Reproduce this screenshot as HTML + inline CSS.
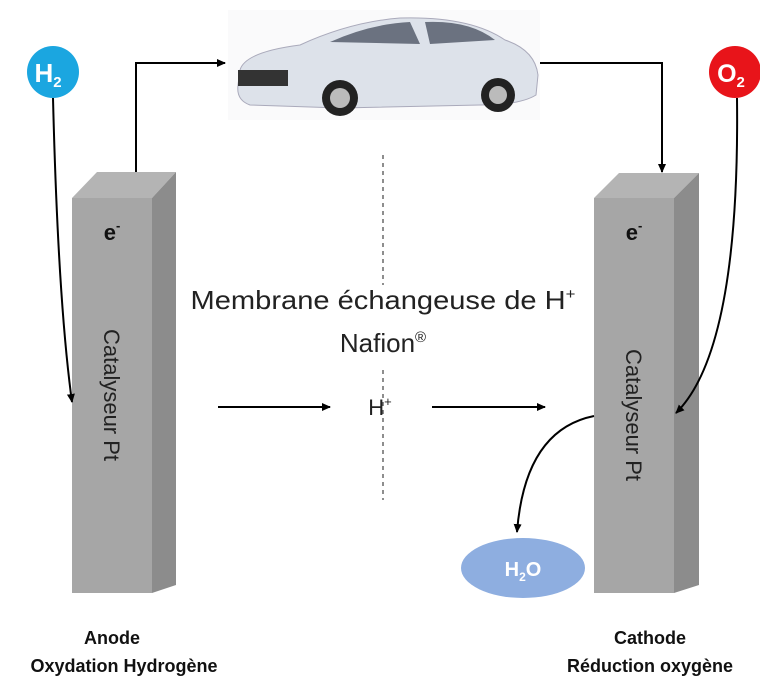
<!DOCTYPE html>
<html><head><meta charset="utf-8"><style>
body{margin:0;background:#fff;}
svg{display:block;font-family:"Liberation Sans",sans-serif;}
</style></head><body>
<svg width="760" height="682" viewBox="0 0 760 682">
<defs>
<marker id="a" markerWidth="10" markerHeight="10" refX="8" refY="5" orient="auto" markerUnits="userSpaceOnUse">
<path d="M0,1 L9,5 L0,9 Z" fill="#000"/></marker>
</defs>
<!-- anode -->
<polygon points="72,198 97,172 176,172 152,198" fill="#b4b4b4"/>
<polygon points="152,198 176,172 176,585 152,593" fill="#8c8c8c"/>
<rect x="72" y="198" width="80" height="395" fill="#a6a6a6"/>
<!-- cathode -->
<polygon points="594,198 619,173 699,173 674,198" fill="#b4b4b4"/>
<polygon points="674,198 699,173 699,585 674,593" fill="#8c8c8c"/>
<rect x="594" y="198" width="80" height="395" fill="#a6a6a6"/>
<text x="112" y="240" font-size="22" font-weight="bold" text-anchor="middle" fill="#111">e<tspan dy="-10" font-size="13">-</tspan></text>
<text x="634" y="240" font-size="22" font-weight="bold" text-anchor="middle" fill="#111">e<tspan dy="-10" font-size="13">-</tspan></text>
<text transform="translate(104,395) rotate(90)" font-size="22" text-anchor="middle" fill="#222">Catalyseur Pt</text>
<text transform="translate(626,415) rotate(90)" font-size="22" text-anchor="middle" fill="#222">Catalyseur Pt</text>
<!-- car -->
<g>
<rect x="228" y="10" width="312" height="110" fill="#fafafb"/>
<path d="M240,70 Q245,52 300,45 Q350,22 400,18 Q470,16 505,40 Q535,50 538,75 L536,95 Q520,105 480,105 L340,108 L250,105 Q236,100 238,85 Z" fill="#dde2ea" stroke="#aab" stroke-width="1"/>
<path d="M330,42 Q370,24 410,22 L420,44 Z M425,22 Q470,20 495,40 L430,44 Z" fill="#6b7280"/>
<rect x="238" y="70" width="50" height="16" fill="#333"/>
<circle cx="340" cy="98" r="18" fill="#222"/><circle cx="340" cy="98" r="10" fill="#bbb"/>
<circle cx="498" cy="95" r="17" fill="#222"/><circle cx="498" cy="95" r="9" fill="#bbb"/>
</g>
<!-- H2 / O2 -->
<circle cx="53" cy="72" r="26" fill="#1ba6e0"/>
<text x="48" y="82" font-size="26" font-weight="bold" fill="#fff" text-anchor="middle">H<tspan font-size="15" dy="5">2</tspan></text>
<circle cx="735" cy="72" r="26" fill="#e8141a"/>
<text x="731" y="82" font-size="25" font-weight="bold" fill="#fff" text-anchor="middle">O<tspan font-size="15" dy="5">2</tspan></text>
<!-- arrows -->
<g fill="none" stroke="#000" stroke-width="2">
<path d="M136,172 V63 H225" marker-end="url(#a)"/>
<path d="M540,63 H662 V172" marker-end="url(#a)"/>
<path d="M53,98 Q58,300 72,402" marker-end="url(#a)"/>
<path d="M737,98 Q740,350 676,413" marker-end="url(#a)"/>
<path d="M594,416 Q525,430 517,532" marker-end="url(#a)"/>
<path d="M218,407 H330" marker-end="url(#a)"/>
<path d="M432,407 H545" marker-end="url(#a)"/>
<path d="M383,155 V285 M383,370 V500" stroke-width="1.2" stroke-dasharray="4,4" stroke="#444"/>
</g>
<ellipse cx="523" cy="568" rx="62" ry="30" fill="#8eaee0"/>
<text x="523" y="576" font-size="20" font-weight="bold" fill="#fff" text-anchor="middle">H<tspan font-size="12" dy="5">2</tspan><tspan dy="-5">O</tspan></text>
<text x="383" y="309" font-size="26" text-anchor="middle" fill="#222" textLength="385" lengthAdjust="spacingAndGlyphs">Membrane échangeuse de H<tspan font-size="15" dy="-10">+</tspan></text>
<text x="383" y="352" font-size="26" text-anchor="middle" fill="#222">Nafion<tspan font-size="15" dy="-10">®</tspan></text>
<text x="380" y="415" font-size="22" text-anchor="middle" fill="#222">H<tspan font-size="13" dy="-9">+</tspan></text>
<text x="112" y="644" font-size="18" font-weight="bold" text-anchor="middle" fill="#111">Anode</text>
<text x="124" y="672" font-size="18" font-weight="bold" text-anchor="middle" fill="#111">Oxydation Hydrogène</text>
<text x="650" y="644" font-size="18" font-weight="bold" text-anchor="middle" fill="#111">Cathode</text>
<text x="650" y="672" font-size="18" font-weight="bold" text-anchor="middle" fill="#111">Réduction oxygène</text>
</svg>
</body></html>
